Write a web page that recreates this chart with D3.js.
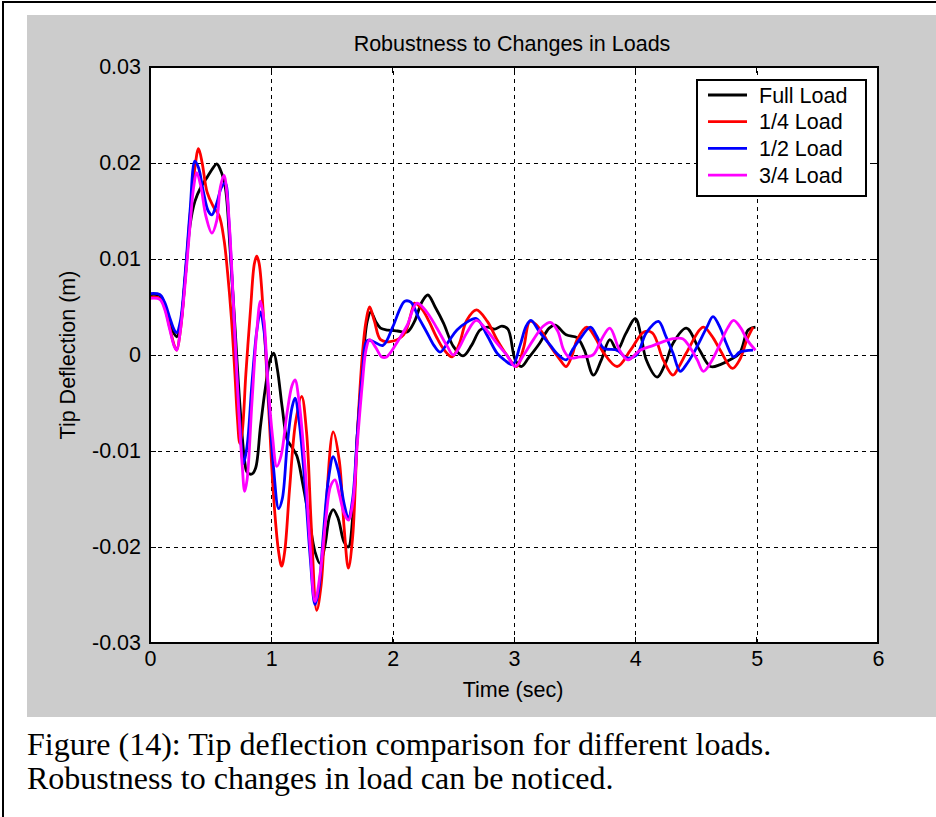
<!DOCTYPE html>
<html>
<head>
<meta charset="utf-8">
<script src="https://cdn.jsdelivr.net/npm/d3@7"></script>
<style>
  body { margin: 0; background: #fff; }
  svg { display: block; }
</style>
</head>
<body>
<div id="main"></div>
<script>
// tip deflection, [time (s), deflection (mm)]
var fullLoad = [[0,6.3],[0.08,6.2],[0.12,5.3],[0.16,3.5],[0.2,2.2],[0.22,1.9],[0.25,3.0],[0.29,8.0],[0.33,13.5],[0.37,16.0],[0.42,17.5],[0.47,18.5],[0.52,19.5],[0.55,19.9],[0.58,19.3],[0.62,17.5],[0.66,11.0],[0.7,3.0],[0.74,-5.0],[0.78,-11.0],[0.8,-12.2],[0.84,-12.4],[0.87,-11.8],[0.91,-7.5],[0.95,-3.5],[0.99,-0.5],[1.02,0.2],[1.05,-1.5],[1.09,-5.5],[1.13,-8.8],[1.17,-9.6],[1.21,-10.5],[1.26,-13.5],[1.31,-17.0],[1.36,-20.5],[1.4,-21.7],[1.44,-20.0],[1.48,-16.8],[1.51,-16.1],[1.55,-17.0],[1.6,-19.5],[1.635,-20.0],[1.67,-17.0],[1.71,-8.0],[1.75,-1.5],[1.79,3.5],[1.82,4.5],[1.86,3.5],[1.9,2.8],[1.96,2.6],[2.04,2.5],[2.12,2.4],[2.18,3.5],[2.24,5.5],[2.29,6.25],[2.35,5.0],[2.42,3.3],[2.5,0.9],[2.58,-0.1],[2.65,1.0],[2.72,2.6],[2.78,2.9],[2.84,2.7],[2.9,3.0],[2.95,2.7],[3.01,-0.5],[3.06,-1.2],[3.12,-0.3],[3.21,1.2],[3.29,2.8],[3.34,3.1],[3.43,2.1],[3.52,1.8],[3.58,0.5],[3.655,-2.1],[3.72,-0.5],[3.79,1.6],[3.85,0.5],[3.92,2.2],[4.0,3.8],[4.05,1.8],[4.09,-0.5],[4.18,-2.3],[4.25,-0.8],[4.31,1.2],[4.42,2.8],[4.53,0.5],[4.62,-1.2],[4.7,-1.0],[4.78,-0.5],[4.86,0.2],[4.93,2.6],[4.99,2.9]];
var quarterLoad = [[0,6.0],[0.08,5.9],[0.12,5.0],[0.16,3.0],[0.2,1.0],[0.22,0.5],[0.25,2.5],[0.29,8.0],[0.33,14.5],[0.37,19.5],[0.4,21.5],[0.43,20.0],[0.47,17.0],[0.52,15.5],[0.57,14.5],[0.61,12.0],[0.64,8.5],[0.67,4.0],[0.7,-2.0],[0.72,-6.5],[0.74,-9.2],[0.76,-8.0],[0.79,-2.0],[0.83,5.0],[0.86,9.5],[0.88,10.3],[0.9,9.5],[0.94,3.0],[0.98,-6.0],[1.02,-15.0],[1.06,-20.5],[1.085,-22.0],[1.11,-20.5],[1.15,-14.0],[1.2,-7.0],[1.25,-4.3],[1.29,-8.0],[1.33,-18.0],[1.374,-26.6],[1.41,-24.0],[1.45,-16.0],[1.51,-8.0],[1.56,-11.0],[1.6,-18.0],[1.635,-22.2],[1.67,-19.0],[1.71,-8.0],[1.75,0.0],[1.78,3.5],[1.81,5.0],[1.85,3.5],[1.9,1.6],[1.98,1.4],[2.09,2.1],[2.16,4.7],[2.18,5.4],[2.24,4.8],[2.3,3.5],[2.36,1.9],[2.42,0.6],[2.49,-0.2],[2.55,1.2],[2.61,3.6],[2.69,4.7],[2.78,3.5],[2.86,1.6],[2.94,0.0],[3.02,-1.2],[3.08,0.8],[3.13,3.5],[3.18,3.2],[3.24,2.2],[3.3,0.9],[3.38,-0.5],[3.43,-1.2],[3.48,0.0],[3.52,1.6],[3.6,2.9],[3.67,1.8],[3.74,0.2],[3.85,-1.2],[3.96,0.5],[4.07,2.4],[4.14,2.3],[4.23,-0.5],[4.31,-2.1],[4.36,-1.2],[4.42,0.2],[4.56,2.9],[4.63,2.0],[4.7,0.5],[4.8,-1.4],[4.86,-0.5],[4.92,1.6],[4.97,2.9]];
var halfLoad = [[0,6.4],[0.08,6.3],[0.12,5.5],[0.16,4.0],[0.2,2.6],[0.22,2.3],[0.25,3.5],[0.29,8.5],[0.33,15.0],[0.37,20.2],[0.4,19.5],[0.44,17.0],[0.48,15.0],[0.51,14.6],[0.55,15.8],[0.59,17.5],[0.62,17.9],[0.65,14.0],[0.68,7.0],[0.71,-0.5],[0.74,-7.0],[0.77,-11.3],[0.8,-9.5],[0.84,-3.0],[0.88,2.5],[0.91,4.5],[0.94,2.5],[0.98,-5.0],[1.02,-12.0],[1.06,-16.0],[1.09,-15.0],[1.13,-9.5],[1.17,-5.5],[1.195,-4.5],[1.23,-7.0],[1.28,-14.0],[1.32,-21.0],[1.36,-26.0],[1.39,-24.5],[1.43,-18.5],[1.47,-13.0],[1.51,-10.6],[1.55,-12.0],[1.6,-15.5],[1.635,-17.0],[1.67,-15.0],[1.71,-8.0],[1.75,-2.0],[1.79,1.5],[1.84,1.4],[1.92,1.0],[2.0,2.9],[2.06,4.8],[2.1,5.6],[2.15,5.5],[2.21,4.0],[2.28,2.4],[2.34,1.0],[2.39,0.3],[2.46,1.4],[2.53,2.6],[2.61,3.4],[2.69,3.8],[2.78,2.0],[2.86,0.2],[2.92,-0.5],[2.99,-1.0],[3.05,1.0],[3.1,3.0],[3.14,3.6],[3.21,2.4],[3.3,1.0],[3.35,0.2],[3.43,-0.5],[3.48,0.5],[3.54,1.6],[3.63,2.9],[3.68,2.0],[3.74,0.7],[3.85,0.5],[3.93,-0.3],[4.01,0.0],[4.09,2.3],[4.19,3.5],[4.25,2.0],[4.31,0.2],[4.37,-1.7],[4.42,-1.0],[4.48,0.2],[4.59,2.9],[4.64,4.0],[4.7,2.8],[4.75,1.2],[4.81,-0.2],[4.86,0.3],[4.97,0.5]];
var threeQuarterLoad = [[0,5.9],[0.08,5.8],[0.12,4.8],[0.16,2.8],[0.2,0.9],[0.22,0.5],[0.25,2.5],[0.29,7.5],[0.33,13.5],[0.36,17.5],[0.385,19.0],[0.42,17.5],[0.46,14.5],[0.51,12.7],[0.55,14.0],[0.58,17.5],[0.61,18.7],[0.64,16.0],[0.67,10.0],[0.7,2.0],[0.73,-5.5],[0.76,-11.5],[0.78,-14.2],[0.8,-13.0],[0.84,-5.0],[0.88,2.5],[0.91,5.6],[0.94,3.5],[0.97,-2.5],[1.01,-8.5],[1.045,-11.6],[1.08,-10.5],[1.13,-6.0],[1.17,-3.2],[1.195,-2.6],[1.23,-5.0],[1.28,-12.0],[1.32,-20.0],[1.36,-25.7],[1.4,-23.0],[1.45,-17.0],[1.49,-13.6],[1.525,-13.0],[1.56,-14.5],[1.6,-16.5],[1.635,-17.2],[1.67,-15.5],[1.71,-9.0],[1.75,-3.0],[1.78,0.5],[1.81,1.6],[1.86,0.8],[1.91,-0.2],[1.95,-0.2],[2.05,1.6],[2.12,3.1],[2.2,5.4],[2.28,4.5],[2.36,2.9],[2.45,0.9],[2.5,0.0],[2.55,0.8],[2.61,2.3],[2.69,3.6],[2.78,2.5],[2.86,1.2],[2.94,0.0],[3.01,-1.2],[3.08,0.0],[3.16,1.6],[3.24,3.0],[3.3,3.4],[3.36,2.5],[3.41,0.5],[3.46,-0.3],[3.54,-0.2],[3.65,0.0],[3.72,1.6],[3.79,2.8],[3.87,0.5],[3.94,-0.5],[4.04,0.5],[4.15,1.0],[4.31,1.7],[4.39,1.7],[4.45,0.8],[4.51,-0.5],[4.56,-1.7],[4.62,-0.8],[4.7,1.2],[4.76,2.8],[4.81,3.6],[4.87,2.8],[4.92,1.6],[4.99,0.5]];

var seriesNames = ["Full Load", "1/4 Load", "1/2 Load", "3/4 Load"];
var seriesColors = ["#000000", "#ff0000", "#0000ff", "#ff00ff"];
var seriesData = [fullLoad, quarterLoad, halfLoad, threeQuarterLoad];

var xTicks = [0, 1, 2, 3, 4, 5, 6];
var yTicks = [-0.03, -0.02, -0.01, 0, 0.01, 0.02, 0.03];

var chartTitle = "Robustness to Changes in Loads";
var xLabel = "Time (sec)";
var yLabel = "Tip Deflection (m)";
var captionLines = ["Figure (14): Tip deflection comparison for different loads.",
                    "Robustness to changes in load can be noticed."];

var W = 936, H = 817;
var plot = { left: 150, top: 67, right: 878, bottom: 643 };
var axFont = "'Liberation Sans', Arial, sans-serif";
var axSize = 21.5;

var svg = d3.select('#main').append('svg').attr('width', W).attr('height', H);

// outer frame and grey figure background
svg.append('rect').attr('x', 3).attr('y', 2).attr('width', W + 10).attr('height', H + 10)
  .attr('fill', '#fff').attr('stroke', '#000').attr('stroke-width', 2);
svg.append('rect').attr('x', 27).attr('y', 15).attr('width', W - 27).attr('height', 702)
  .attr('fill', '#cccccc');

var x = d3.scaleLinear().domain([0, 6]).range([plot.left, plot.right]);
var y = d3.scaleLinear().domain([-0.03, 0.03]).range([plot.bottom, plot.top]);

svg.append('rect').attr('x', plot.left).attr('y', plot.top)
  .attr('width', plot.right - plot.left).attr('height', plot.bottom - plot.top)
  .attr('fill', '#fff');

var fmtY = function(v) {
  if (Math.abs(v) < 1e-9) return "0";
  return (v < 0 ? "-" : "") + Math.abs(v).toFixed(2);
};

// grid via axes
var xGrid = svg.append('g').attr('transform', 'translate(0,' + plot.bottom + ')')
  .call(d3.axisBottom(x).tickValues(xTicks).tickSize(-(plot.bottom - plot.top)).tickFormat(''));
var yGrid = svg.append('g').attr('transform', 'translate(' + plot.left + ',0)')
  .call(d3.axisLeft(y).tickValues(yTicks).tickSize(-(plot.right - plot.left)).tickFormat(''));
[xGrid, yGrid].forEach(function(g) {
  g.select('.domain').remove();
  g.selectAll('.tick line').attr('stroke', '#000').attr('stroke-width', 1.3)
    .attr('stroke-dasharray', '4,4').attr('shape-rendering', 'crispEdges');
});

// tick labels
var xAxis = svg.append('g').attr('transform', 'translate(0,' + plot.bottom + ')')
  .call(d3.axisBottom(x).tickValues(xTicks).tickSize(0).tickPadding(8).tickFormat(d3.format('d')));
var yAxis = svg.append('g').attr('transform', 'translate(' + plot.left + ',0)')
  .call(d3.axisLeft(y).tickValues(yTicks).tickSize(0).tickPadding(9).tickFormat(fmtY));
[xAxis, yAxis].forEach(function(g) {
  g.select('.domain').remove();
  g.selectAll('text').attr('font-family', axFont).attr('font-size', axSize).attr('fill', '#000');
});

// short inward ticks on all four sides
var tickLen = 6;
var ticks = svg.append('g').attr('stroke', '#000').attr('stroke-width', 1).attr('shape-rendering', 'crispEdges');
xTicks.forEach(function(t) {
  ticks.append('line').attr('x1', x(t)).attr('x2', x(t)).attr('y1', plot.bottom).attr('y2', plot.bottom - tickLen);
  ticks.append('line').attr('x1', x(t)).attr('x2', x(t)).attr('y1', plot.top).attr('y2', plot.top + tickLen);
});
yTicks.forEach(function(v) {
  ticks.append('line').attr('x1', plot.left).attr('x2', plot.left + tickLen).attr('y1', y(v)).attr('y2', y(v));
  ticks.append('line').attr('x1', plot.right).attr('x2', plot.right - tickLen).attr('y1', y(v)).attr('y2', y(v));
});

// series
var line = d3.line()
  .x(function(d) { return x(d[0]); })
  .y(function(d) { return y(d[1] / 1000); })
  .curve(d3.curveCatmullRom.alpha(0.5));

svg.append('clipPath').attr('id', 'clip').append('rect')
  .attr('x', plot.left).attr('y', plot.top)
  .attr('width', plot.right - plot.left).attr('height', plot.bottom - plot.top);

svg.append('g').attr('clip-path', 'url(#clip)')
  .selectAll('path').data(seriesData).enter().append('path')
  .attr('d', line)
  .attr('fill', 'none')
  .attr('stroke', function(d, i) { return seriesColors[i]; })
  .attr('stroke-width', 2.8)
  .attr('stroke-linejoin', 'round');

// axes box
svg.append('rect').attr('x', plot.left).attr('y', plot.top)
  .attr('width', plot.right - plot.left).attr('height', plot.bottom - plot.top)
  .attr('fill', 'none').attr('stroke', '#000').attr('stroke-width', 1.3)
  .attr('shape-rendering', 'crispEdges');

// title and labels
svg.append('text').attr('x', (plot.left + plot.right) / 2 - 2).attr('y', 51)
  .attr('text-anchor', 'middle').attr('font-family', axFont).attr('font-size', axSize)
  .text(chartTitle);
svg.append('text').attr('x', (plot.left + plot.right) / 2 - 1).attr('y', 697)
  .attr('text-anchor', 'middle').attr('font-family', axFont).attr('font-size', axSize)
  .text(xLabel);
svg.append('text').attr('transform', 'translate(75,' + ((plot.top + plot.bottom) / 2) + ') rotate(-90)')
  .attr('text-anchor', 'middle').attr('font-family', axFont).attr('font-size', axSize)
  .text(yLabel);

// legend
var legend = svg.append('g').attr('transform', 'translate(697,80)');
legend.append('rect').attr('width', 169).attr('height', 116)
  .attr('fill', '#fff').attr('stroke', '#000').attr('stroke-width', 1.3)
  .attr('shape-rendering', 'crispEdges');
var items = legend.selectAll('g.item').data(seriesNames).enter().append('g')
  .attr('class', 'item')
  .attr('transform', function(d, i) { return 'translate(0,' + (15 + i * 26.7) + ')'; });
items.append('line').attr('x1', 11).attr('x2', 50).attr('y1', 0).attr('y2', 0)
  .attr('stroke', function(d, i) { return seriesColors[i]; }).attr('stroke-width', 2.8);
items.append('text').attr('x', 62).attr('y', 7.5)
  .attr('font-family', axFont).attr('font-size', axSize).text(function(d) { return d; });

// caption
svg.selectAll('text.caption').data(captionLines).enter().append('text')
  .attr('class', 'caption')
  .attr('x', 27).attr('y', function(d, i) { return 755 + i * 34; })
  .attr('font-family', "'Liberation Serif', 'Times New Roman', serif")
  .attr('font-size', 32)
  .text(function(d) { return d; });
</script>
</body>
</html>
